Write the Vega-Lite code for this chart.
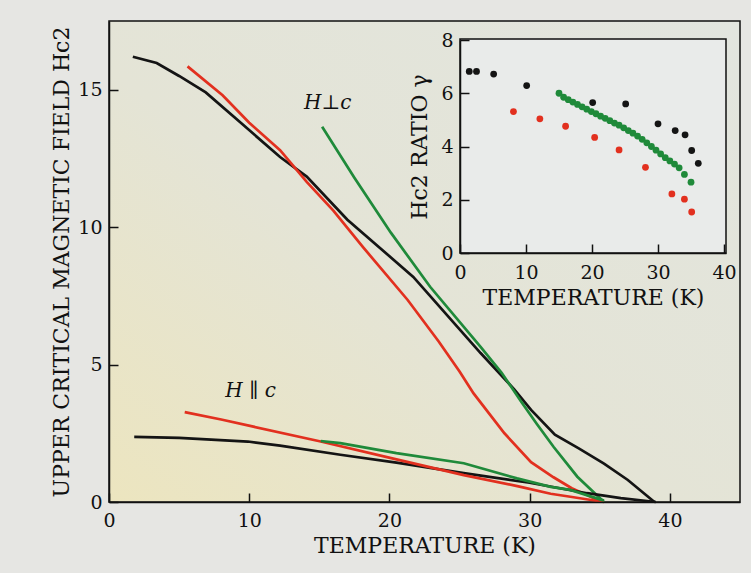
{
  "$schema": "https://vega.github.io/schema/vega-lite/v6.json",
  "width": 631,
  "height": 481,
  "autosize": {"type": "none"},
  "padding": {"left": 109, "top": 21, "right": 11, "bottom": 71},
  "background": "#e6e6e3",
  "config": {
    "view": {"stroke": null},
    "font": "DejaVu Serif",
    "axis": {
      "grid": false,
      "labelFlush": false,
      "domainColor": "#111111",
      "domainWidth": 1.5,
      "tickColor": "#111111",
      "tickWidth": 1.5,
      "tickSize": -9,
      "labelFont": "DejaVu Serif",
      "labelFontSize": 19,
      "labelColor": "#111111",
      "titleFont": "DejaVu Serif",
      "titleFontSize": 22,
      "titleFontWeight": "normal",
      "titleColor": "#111111"
    }
  },
  "datasets": {
    "curves": [
      {"sample": "A", "dir": "perp", "T": 1.7, "H": 16.2},
      {"sample": "A", "dir": "perp", "T": 3.4, "H": 15.97},
      {"sample": "A", "dir": "perp", "T": 5.0, "H": 15.5},
      {"sample": "A", "dir": "perp", "T": 6.9, "H": 14.9},
      {"sample": "A", "dir": "perp", "T": 9.5, "H": 13.75},
      {"sample": "A", "dir": "perp", "T": 12.2, "H": 12.55},
      {"sample": "A", "dir": "perp", "T": 14.1, "H": 11.84},
      {"sample": "A", "dir": "perp", "T": 17.0, "H": 10.27},
      {"sample": "A", "dir": "perp", "T": 21.7, "H": 8.19},
      {"sample": "A", "dir": "perp", "T": 26.5, "H": 5.42},
      {"sample": "A", "dir": "perp", "T": 28.9, "H": 4.1},
      {"sample": "A", "dir": "perp", "T": 30.1, "H": 3.35},
      {"sample": "A", "dir": "perp", "T": 31.8, "H": 2.45},
      {"sample": "A", "dir": "perp", "T": 33.5, "H": 1.95},
      {"sample": "A", "dir": "perp", "T": 35.3, "H": 1.4},
      {"sample": "A", "dir": "perp", "T": 37.0, "H": 0.8},
      {"sample": "A", "dir": "perp", "T": 38.9, "H": 0},
      {"sample": "B", "dir": "perp", "T": 5.6, "H": 15.85},
      {"sample": "B", "dir": "perp", "T": 8.1, "H": 14.8},
      {"sample": "B", "dir": "perp", "T": 10.0, "H": 13.8},
      {"sample": "B", "dir": "perp", "T": 12.2, "H": 12.8},
      {"sample": "B", "dir": "perp", "T": 14.1, "H": 11.65},
      {"sample": "B", "dir": "perp", "T": 16.0, "H": 10.6},
      {"sample": "B", "dir": "perp", "T": 18.1, "H": 9.28},
      {"sample": "B", "dir": "perp", "T": 21.3, "H": 7.35},
      {"sample": "B", "dir": "perp", "T": 23.5, "H": 5.85},
      {"sample": "B", "dir": "perp", "T": 25.0, "H": 4.75},
      {"sample": "B", "dir": "perp", "T": 26.0, "H": 3.95},
      {"sample": "B", "dir": "perp", "T": 28.2, "H": 2.5},
      {"sample": "B", "dir": "perp", "T": 30.1, "H": 1.45},
      {"sample": "B", "dir": "perp", "T": 31.7, "H": 0.9},
      {"sample": "B", "dir": "perp", "T": 33.0, "H": 0.5},
      {"sample": "B", "dir": "perp", "T": 34.1, "H": 0.25},
      {"sample": "B", "dir": "perp", "T": 35.0, "H": 0.03},
      {"sample": "C", "dir": "perp", "T": 15.2, "H": 13.65},
      {"sample": "C", "dir": "perp", "T": 17.5, "H": 11.8},
      {"sample": "C", "dir": "perp", "T": 20.1, "H": 9.8},
      {"sample": "C", "dir": "perp", "T": 22.9, "H": 7.83},
      {"sample": "C", "dir": "perp", "T": 26.5, "H": 5.64},
      {"sample": "C", "dir": "perp", "T": 28.0, "H": 4.7},
      {"sample": "C", "dir": "perp", "T": 29.4, "H": 3.65},
      {"sample": "C", "dir": "perp", "T": 30.5, "H": 2.85},
      {"sample": "C", "dir": "perp", "T": 31.7, "H": 2.01},
      {"sample": "C", "dir": "perp", "T": 33.4, "H": 0.92},
      {"sample": "C", "dir": "perp", "T": 35.3, "H": 0},
      {"sample": "A", "dir": "par", "T": 1.8, "H": 2.37},
      {"sample": "A", "dir": "par", "T": 5.0, "H": 2.33},
      {"sample": "A", "dir": "par", "T": 9.9, "H": 2.2},
      {"sample": "A", "dir": "par", "T": 12.2, "H": 2.05},
      {"sample": "A", "dir": "par", "T": 16.5, "H": 1.72},
      {"sample": "A", "dir": "par", "T": 20.5, "H": 1.43},
      {"sample": "A", "dir": "par", "T": 25.3, "H": 1.05},
      {"sample": "A", "dir": "par", "T": 30.0, "H": 0.7},
      {"sample": "A", "dir": "par", "T": 34.1, "H": 0.32},
      {"sample": "A", "dir": "par", "T": 36.5, "H": 0.14},
      {"sample": "A", "dir": "par", "T": 39.0, "H": 0},
      {"sample": "B", "dir": "par", "T": 5.4, "H": 3.27},
      {"sample": "B", "dir": "par", "T": 8.0, "H": 3.0},
      {"sample": "B", "dir": "par", "T": 10.3, "H": 2.74},
      {"sample": "B", "dir": "par", "T": 15.1, "H": 2.2},
      {"sample": "B", "dir": "par", "T": 20.5, "H": 1.55},
      {"sample": "B", "dir": "par", "T": 25.3, "H": 0.98},
      {"sample": "B", "dir": "par", "T": 29.2, "H": 0.57},
      {"sample": "B", "dir": "par", "T": 31.5, "H": 0.3},
      {"sample": "B", "dir": "par", "T": 32.9, "H": 0.19},
      {"sample": "B", "dir": "par", "T": 35.3, "H": 0},
      {"sample": "C", "dir": "par", "T": 15.1, "H": 2.22},
      {"sample": "C", "dir": "par", "T": 16.5, "H": 2.14},
      {"sample": "C", "dir": "par", "T": 20.5, "H": 1.78},
      {"sample": "C", "dir": "par", "T": 25.3, "H": 1.41},
      {"sample": "C", "dir": "par", "T": 29.1, "H": 0.86},
      {"sample": "C", "dir": "par", "T": 31.5, "H": 0.55},
      {"sample": "C", "dir": "par", "T": 32.9, "H": 0.44},
      {"sample": "C", "dir": "par", "T": 35.3, "H": 0.05}
    ],
    "ratio": [
      {"sample": "A", "T": 1.4, "g": 6.82},
      {"sample": "A", "T": 2.5, "g": 6.82},
      {"sample": "A", "T": 5.1, "g": 6.72},
      {"sample": "A", "T": 10.1, "g": 6.29},
      {"sample": "A", "T": 20.1, "g": 5.65},
      {"sample": "A", "T": 25.1, "g": 5.6},
      {"sample": "A", "T": 30.0, "g": 4.85},
      {"sample": "A", "T": 32.6, "g": 4.6},
      {"sample": "A", "T": 34.1, "g": 4.44},
      {"sample": "A", "T": 35.1, "g": 3.85},
      {"sample": "A", "T": 36.1, "g": 3.37},
      {"sample": "B", "T": 8.1, "g": 5.31},
      {"sample": "B", "T": 12.1, "g": 5.04},
      {"sample": "B", "T": 16.0, "g": 4.76},
      {"sample": "B", "T": 20.4, "g": 4.34},
      {"sample": "B", "T": 24.1, "g": 3.87},
      {"sample": "B", "T": 28.1, "g": 3.22},
      {"sample": "B", "T": 32.1, "g": 2.22},
      {"sample": "B", "T": 34.0, "g": 2.02},
      {"sample": "B", "T": 35.1, "g": 1.54},
      {"sample": "C", "T": 15.0, "g": 6.0},
      {"sample": "C", "T": 15.7, "g": 5.85},
      {"sample": "C", "T": 16.4, "g": 5.76},
      {"sample": "C", "T": 17.1, "g": 5.67},
      {"sample": "C", "T": 17.8, "g": 5.58},
      {"sample": "C", "T": 18.5, "g": 5.49},
      {"sample": "C", "T": 19.2, "g": 5.4},
      {"sample": "C", "T": 19.9, "g": 5.31},
      {"sample": "C", "T": 20.6, "g": 5.23},
      {"sample": "C", "T": 21.3, "g": 5.14},
      {"sample": "C", "T": 22.0, "g": 5.06},
      {"sample": "C", "T": 22.7, "g": 4.97},
      {"sample": "C", "T": 23.4, "g": 4.88},
      {"sample": "C", "T": 24.1, "g": 4.8},
      {"sample": "C", "T": 24.8, "g": 4.7},
      {"sample": "C", "T": 25.5, "g": 4.6},
      {"sample": "C", "T": 26.2, "g": 4.5},
      {"sample": "C", "T": 26.9, "g": 4.39},
      {"sample": "C", "T": 27.6, "g": 4.27},
      {"sample": "C", "T": 28.3, "g": 4.14},
      {"sample": "C", "T": 29.0, "g": 4.0},
      {"sample": "C", "T": 29.7, "g": 3.86},
      {"sample": "C", "T": 30.4, "g": 3.72},
      {"sample": "C", "T": 31.1, "g": 3.58},
      {"sample": "C", "T": 31.8, "g": 3.46},
      {"sample": "C", "T": 32.5, "g": 3.34},
      {"sample": "C", "T": 33.2, "g": 3.2},
      {"sample": "C", "T": 34.0, "g": 2.95},
      {"sample": "C", "T": 35.0, "g": 2.66}
    ],
    "labels": [
      {"label": "H⊥c", "T": 15.6, "H": 14.5},
      {"label": "H ∥ c", "T": 10.1, "H": 4.05}
    ]
  },
  "layer": [
    {
      "layer": [
        {
          "data": {"values": [{}]},
          "mark": {
            "type": "rect",
            "stroke": "#111111",
            "strokeWidth": 1.5,
            "fill": {
              "gradient": "linear",
              "x1": 0, "y1": 1, "x2": 1, "y2": 0,
              "stops": [
                {"offset": 0, "color": "#ece5bf"},
                {"offset": 0.45, "color": "#e4e4d6"},
                {"offset": 1, "color": "#e2e5df"}
              ]
            }
          },
          "encoding": {
            "x": {"datum": 0, "type": "quantitative", "scale": {"domain": [0, 45], "nice": false, "zero": false},
                  "axis": {"zindex": 2, "values": [0, 10, 20, 30, 40], "title": "TEMPERATURE (K)", "labelPadding": 18, "titlePadding": 5}},
            "x2": {"datum": 45},
            "y": {"datum": 0, "type": "quantitative", "scale": {"domain": [0, 17.5], "nice": false, "zero": false},
                  "axis": {"zindex": 2, "values": [0, 5, 10, 15], "title": "UPPER CRITICAL MAGNETIC FIELD Hc2", "labelPadding": 16, "titlePadding": 4}},
            "y2": {"datum": 17.5}
          }
        },
        {
          "data": {"name": "curves"},
          "mark": {"type": "line", "strokeWidth": 2.7},
          "encoding": {
            "x": {"field": "T", "type": "quantitative", "scale": {"domain": [0, 45], "nice": false, "zero": false},
                  "axis": {"zindex": 2, "values": [0, 10, 20, 30, 40], "title": "TEMPERATURE (K)", "labelPadding": 18, "titlePadding": 5}},
            "y": {"field": "H", "type": "quantitative", "scale": {"domain": [0, 17.5], "nice": false, "zero": false},
                  "axis": {"zindex": 2, "values": [0, 5, 10, 15], "title": "UPPER CRITICAL MAGNETIC FIELD Hc2", "labelPadding": 16, "titlePadding": 4}},
            "color": {"field": "sample", "type": "nominal", "legend": null,
                      "scale": {"domain": ["A", "B", "C"], "range": ["#141414", "#e2301f", "#1f8a3a"]}},
            "detail": {"field": "dir", "type": "nominal"}
          }
        },
        {
          "data": {"name": "labels"},
          "mark": {"type": "text", "font": "DejaVu Serif", "fontStyle": "italic", "fontSize": 20, "color": "#111111"},
          "encoding": {
            "x": {"field": "T", "type": "quantitative", "scale": {"domain": [0, 45], "nice": false, "zero": false},
                  "axis": {"zindex": 2, "values": [0, 10, 20, 30, 40], "title": "TEMPERATURE (K)", "labelPadding": 18, "titlePadding": 5}},
            "y": {"field": "H", "type": "quantitative", "scale": {"domain": [0, 17.5], "nice": false, "zero": false},
                  "axis": {"zindex": 2, "values": [0, 5, 10, 15], "title": "UPPER CRITICAL MAGNETIC FIELD Hc2", "labelPadding": 16, "titlePadding": 4}},
            "text": {"field": "label", "type": "nominal"}
          }
        }
      ]
    },
    {
      "layer": [
        {
          "data": {"values": [{}]},
          "mark": {"type": "rect", "fill": "#e9ebea", "stroke": "#111111", "strokeWidth": 1.5},
          "encoding": {
            "x": {"datum": 0, "type": "quantitative", "scale": {"domain": [0, 40.3], "range": [351, 617], "nice": false, "zero": false},
                  "axis": {"zindex": 2, "orient": "bottom", "offset": -249, "values": [0, 10, 20, 30, 40], "title": "TEMPERATURE (K)", "labelPadding": 19, "titlePadding": 5}},
            "x2": {"datum": 40.3},
            "y": {"datum": 0, "type": "quantitative", "scale": {"domain": [0, 8], "range": [232, 19], "nice": false, "zero": false},
                  "axis": {"zindex": 2, "orient": "left", "offset": -351, "values": [0, 2, 4, 6, 8], "title": "Hc2 RATIO γ", "labelPadding": 16, "titlePadding": 9}},
            "y2": {"datum": 8.04}
          }
        },
        {
          "data": {"name": "ratio"},
          "mark": {"type": "circle", "opacity": 1},
          "encoding": {
            "x": {"field": "T", "type": "quantitative", "scale": {"domain": [0, 40.3], "range": [351, 617], "nice": false, "zero": false},
                  "axis": {"zindex": 2, "orient": "bottom", "offset": -249, "values": [0, 10, 20, 30, 40], "title": "TEMPERATURE (K)", "labelPadding": 19, "titlePadding": 5}},
            "y": {"field": "g", "type": "quantitative", "scale": {"domain": [0, 8], "range": [232, 19], "nice": false, "zero": false},
                  "axis": {"zindex": 2, "orient": "left", "offset": -351, "values": [0, 2, 4, 6, 8], "title": "Hc2 RATIO γ", "labelPadding": 16, "titlePadding": 9}},
            "color": {"field": "sample", "type": "nominal", "legend": null,
                      "scale": {"domain": ["A", "B", "C"], "range": ["#141414", "#e2301f", "#1f8a3a"]}},
            "size": {"field": "sample", "type": "nominal", "legend": null,
                     "scale": {"domain": ["A", "B", "C"], "range": [46, 46, 40]}}
          }
        }
      ]
    }
  ],
  "resolve": {
    "scale": {"x": "independent", "y": "independent"},
    "axis": {"x": "independent", "y": "independent"}
  }
}
